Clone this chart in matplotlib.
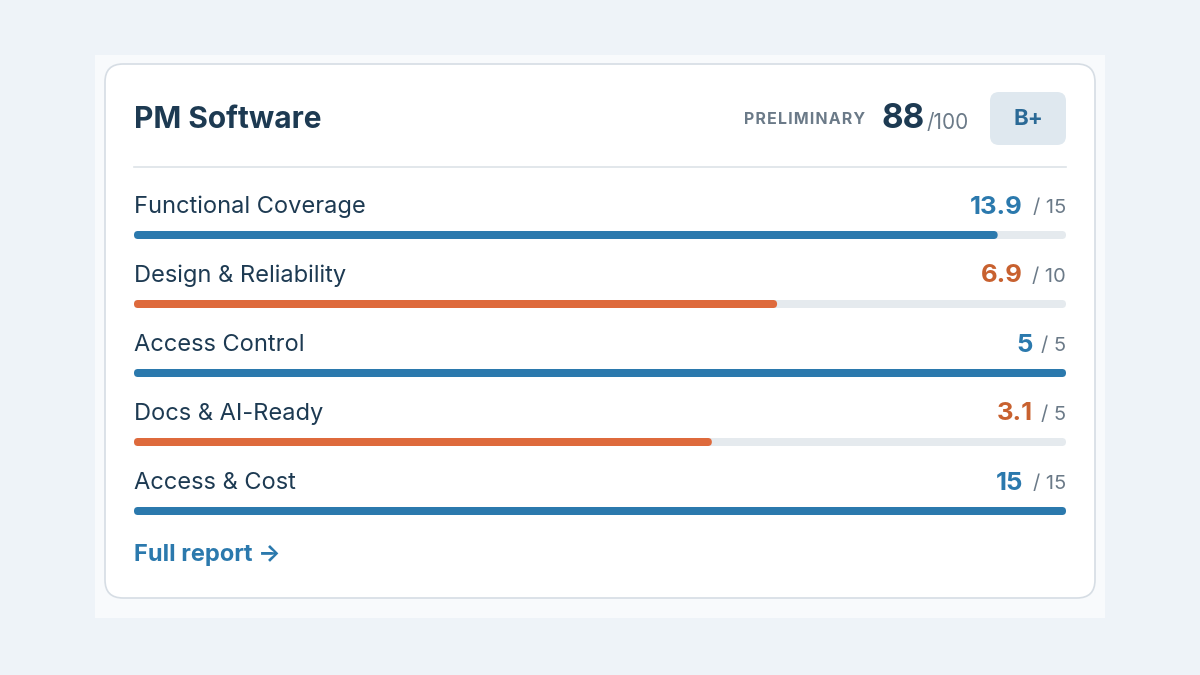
import matplotlib
matplotlib.use("Agg")
import matplotlib.pyplot as plt
from matplotlib.patches import FancyBboxPatch, Rectangle

categories = ["Functional Coverage", "Design & Reliability", "Access Control", "Docs & AI-Ready", "Access & Cost"]
scores = [13.9, 6.9, 5, 3.1, 15]
maxima = [15, 10, 5, 5, 15]
score_labels = ["13.9", "6.9", "5", "3.1", "15"]
total, total_max, grade = 88, 100, "B+"

BLUE = "#2b79ad"; ORANGE = "#de6a3c"; ORANGE_T = "#c8612f"
TRACK = "#e5eaee"; DARK = "#1d3a52"; GREY = "#6b7a88"

plt.rcParams['font.family'] = ['Inter', 'DejaVu Sans']
fig = plt.figure(figsize=(12, 6.75), dpi=100)
fig.patch.set_facecolor("#eef3f8")
ax = fig.add_axes([0, 0, 1, 1])
ax.set_xlim(0, 1200); ax.set_ylim(675, 0); ax.axis("off")

ax.add_patch(Rectangle((95, 55), 1010, 563, facecolor="#f8fafc", edgecolor="none"))
ax.add_patch(FancyBboxPatch((105, 64), 990, 534, boxstyle="round,pad=0,rounding_size=18",
                            facecolor="white", edgecolor="#d6dde4", lw=1.2))

ax.text(134, 120, "PM Software", fontsize=21.5, fontweight="bold", color=DARK, va="center")
ax.text(865, 120, "P R E L I M I N A R Y".replace(" ", "\u200a"), fontsize=11.5, fontweight="bold",
        color=GREY, va="center", ha="right")
ax.text(925, 119, str(total), fontsize=24, fontweight="bold", color=DARK, va="center", ha="right")
ax.text(927, 123, f"/{total_max}", fontsize=15, color=GREY, va="center", ha="left")
ax.add_patch(FancyBboxPatch((990, 92), 76, 53, boxstyle="round,pad=0,rounding_size=9",
                            facecolor="#dfe8ef", edgecolor="none"))
ax.text(1028, 119, grade, fontsize=16, fontweight="bold", color="#2b6a96", va="center", ha="center")
ax.plot([134, 1066], [167, 167], color="#dde3e8", lw=1.2)

x0, W, H = 134, 932, 8
for i, (c, s, m, sl) in enumerate(zip(categories, scores, maxima, score_labels)):
    yl = 207 + 69 * i
    yb = 235 + 69 * i
    full = s >= m * 0.9
    col = BLUE if full else ORANGE
    tcol = BLUE if full else ORANGE_T
    ax.text(x0, yl, c, fontsize=17, color=DARK, va="center")
    ax.text(1066, yl + 1, f"/ {m}", fontsize=14.5, color=GREY, va="center", ha="right")
    ax.text(1023 if m >= 10 else 1033, yl, sl, fontsize=18.5, fontweight="bold", color=tcol,
            va="center", ha="right")
    ax.add_patch(FancyBboxPatch((x0, yb - H / 2), W, H, boxstyle="round,pad=0,rounding_size=4",
                                facecolor=TRACK, edgecolor="none"))
    ax.add_patch(FancyBboxPatch((x0, yb - H / 2), W * s / m, H, boxstyle="round,pad=0,rounding_size=4",
                                facecolor=col, edgecolor="none"))

ax.text(134, 555, "Full report →", fontsize=17, fontweight="bold", color=BLUE, va="center")
fig.savefig("out.png", dpi=100, facecolor=fig.get_facecolor())
